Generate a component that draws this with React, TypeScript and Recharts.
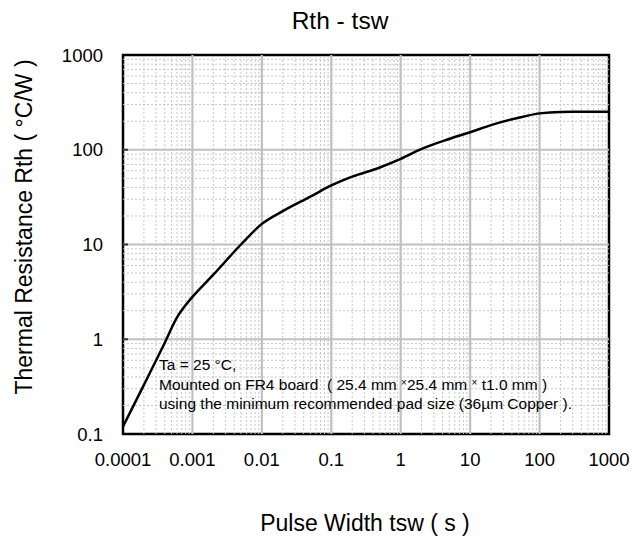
import React from 'react';
import { LineChart, Line, XAxis, YAxis, ReferenceLine, ReferenceArea } from 'recharts';

// pulse width (s) and thermal resistance (°C/W)
const tsw = [0.0001, 0.0002, 0.0004, 0.0006, 0.0008, 0.001, 0.002, 0.005, 0.01, 0.02, 0.05, 0.1, 0.2, 0.5, 1, 2, 5, 10, 20, 50, 100, 200, 500, 1000];
const rth = [0.12, 0.33, 0.92, 1.7, 2.3, 2.8, 4.8, 10, 16.5, 22.5, 32, 42, 52, 65, 80, 102, 130, 153, 182, 218, 242, 251, 252, 252];

const xTicks = [0.0001, 0.001, 0.01, 0.1, 1, 10, 100, 1000];
const yTicks = [0.1, 1, 10, 100, 1000];
const minorSteps = [2, 3, 4, 5, 6, 7, 8, 9];

const data = tsw.map((t, i) => ({ tsw: t, rth: rth[i] }));

const minorOf = (decades: number[]) =>
  decades.slice(0, -1).flatMap((d) => minorSteps.map((m) => m * d));

const xMinor = minorOf(xTicks);
const yMinor = minorOf(yTicks);
const xMajor = xTicks.slice(1, -1);
const yMajor = yTicks.slice(1, -1);

const FONT = "Arial, 'Liberation Sans', sans-serif";
const minorStyle = { stroke: '#c6c6c6', strokeWidth: 1, strokeDasharray: '2 2' };
const majorStyle = { stroke: '#c0c0c0', strokeWidth: 2.2 };

export default function App() {
  return (
    <div style={{ position: 'absolute', left: 0, top: 0, width: 633, height: 538, background: '#fff', fontFamily: FONT }}>
      <LineChart
        width={633}
        height={538}
        data={data}
        margin={{ top: 55, right: 24, left: 23, bottom: 74 }}
      >
        <XAxis
          dataKey="tsw"
          type="number"
          scale="log"
          domain={[0.0001, 1000]}
          ticks={xTicks}
          allowDataOverflow
          height={30}
          axisLine={false}
          tickLine={false}
          tickSize={-5}
          tickMargin={24}
          tickFormatter={(v) => String(v)}
          tick={{ fill: '#000', fontSize: 18.5, fontFamily: FONT }}
        />
        <YAxis
          type="number"
          scale="log"
          domain={[0.1, 1000]}
          ticks={yTicks}
          allowDataOverflow
          width={100}
          axisLine={false}
          tickLine={false}
          tickSize={-5}
          tickMargin={25}
          tickFormatter={(v) => String(v)}
          tick={{ fill: '#000', fontSize: 18.5, fontFamily: FONT }}
        />
        {xMinor.map((v) => (
          <ReferenceLine key={'xm' + v} x={v} {...minorStyle} />
        ))}
        {yMinor.map((v) => (
          <ReferenceLine key={'ym' + v} y={v} {...minorStyle} />
        ))}
        {xMajor.map((v) => (
          <ReferenceLine key={'xM' + v} x={v} {...majorStyle} />
        ))}
        {yMajor.map((v) => (
          <ReferenceLine key={'yM' + v} y={v} {...majorStyle} />
        ))}
        {/* short inward tick marks on the left axis */}
        {yMajor.map((v) => (
          <ReferenceLine
            key={'yt' + v}
            segment={[{ x: 0.0001, y: v }, { x: 0.000118, y: v }]}
            stroke="#333"
            strokeWidth={2}
          />
        ))}
        <Line
          type="monotone"
          dataKey="rth"
          stroke="#000"
          strokeWidth={2.5}
          dot={false}
          isAnimationActive={false}
        />
        <ReferenceArea
          x1={0.0001}
          x2={1000}
          y1={0.1}
          y2={1000}
          fill="none"
          fillOpacity={0}
          stroke="#000"
          strokeWidth={2.5}
          ifOverflow="visible"
        />
      </LineChart>
      <svg
        width={633}
        height={538}
        style={{ position: 'absolute', left: 0, top: 0, pointerEvents: 'none' }}
        fontFamily={FONT}
        xmlSpace="preserve"
      >
        <text x={340} y={29} fontSize={24.5} textAnchor="middle" fill="#000">Rth - tsw</text>
        <text x={365} y={531} fontSize={23} textAnchor="middle" fill="#000">Pulse Width tsw ( s )</text>
        <text
          transform="translate(31.5,227) rotate(-90)"
          fontSize={23}
          textAnchor="middle"
          fill="#000"
        >
          Thermal Resistance Rth ( °C/W )
        </text>
        <g fontSize={15.5} fill="#000">
          <text x={159} y={370}>Ta = 25 °C,</text>
          <text x={159} y={389.5} xmlSpace="preserve">
            <tspan>{'Mounted on FR4 board\u00a0 ( 25.4 mm '}</tspan>
            <tspan fontSize={10} dy={-4}>×</tspan>
            <tspan dy={4}>{'25.4 mm '}</tspan>
            <tspan fontSize={10} dy={-4}>×</tspan>
            <tspan dy={4}>{' t1.0 mm )'}</tspan>
          </text>
          <text x={159} y={408.5}>using the minimum recommended pad size (36µm Copper ).</text>
        </g>
      </svg>
    </div>
  );
}
